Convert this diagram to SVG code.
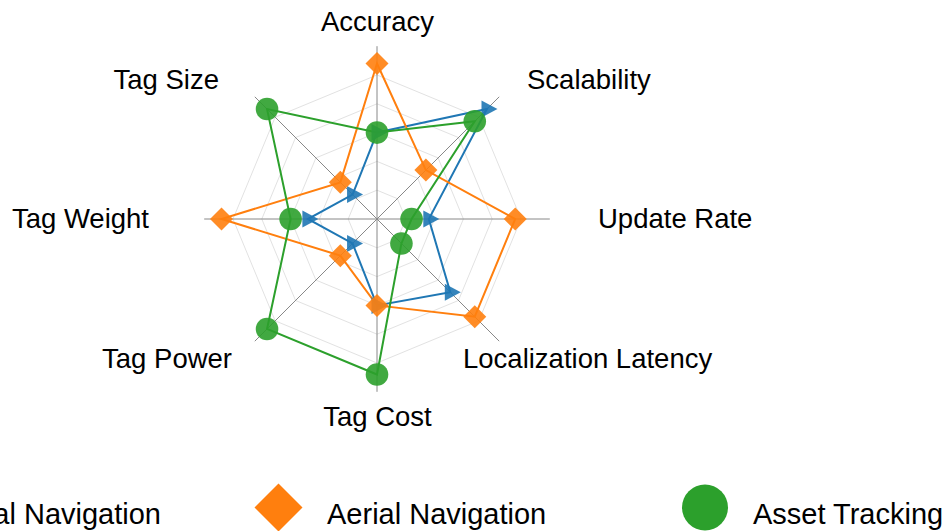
<svg xmlns="http://www.w3.org/2000/svg" xmlns:xlink="http://www.w3.org/1999/xlink" width="949" height="531" viewBox="0 0 949 531">
<style>
.grid{fill:none;stroke:#e2e2e2;stroke-width:1}
.axis{stroke:#888;stroke-width:1}
.lbl{font-family:"Liberation Sans",Arial,sans-serif;font-size:27.5px;fill:#000}
.leg{font-family:"Liberation Sans",Arial,sans-serif;font-size:29px;fill:#000}
.s{fill:none;stroke-width:2;stroke-linejoin:miter}
.blue{stroke:#1f77b4}.orange{stroke:#ff7f0e}.green{stroke:#2ca02c}
.mb{fill:#1f77b4;opacity:0.9}.mo{fill:#ff7f0e;opacity:0.9}.mg{fill:#2ca02c;opacity:0.9}
</style>
<defs>
<path id="tri" d="M-5.5,-8.5 L10.5,0 L-5.5,8.5 Z"/>
<path id="dia" d="M0,-11.5 L11.5,0 L0,11.5 L-11.5,0 Z"/>
<circle id="cir" r="11.3"/>
</defs>
<rect width="949" height="531" fill="#fff"/>
<g id="grid">
<polygon class="grid" points="405.8,219 397.36,239.36 377,247.8 356.64,239.36 348.2,219 356.64,198.64 377,190.2 397.36,198.64"/>
<polygon class="grid" points="434.6,219 417.73,259.73 377,276.6 336.27,259.73 319.4,219 336.27,178.27 377,161.4 417.73,178.27"/>
<polygon class="grid" points="463.4,219 438.09,280.09 377,305.4 315.91,280.09 290.6,219 315.91,157.91 377,132.6 438.09,157.91"/>
<polygon class="grid" points="492.2,219 458.46,300.46 377,334.2 295.54,300.46 261.8,219 295.54,137.54 377,103.8 458.46,137.54"/>
<polygon class="grid" points="521,219 478.82,320.82 377,363 275.18,320.82 233,219 275.18,117.18 377,75 478.82,117.18"/>
</g>
<g id="axes">
<line class="axis" x1="377" y1="46.2" x2="377" y2="391.8"/>
<line class="axis" x1="204.2" y1="219" x2="549.8" y2="219"/>
<line class="axis" x1="254.81" y1="96.81" x2="499.19" y2="341.19"/>
<line class="axis" x1="254.81" y1="341.19" x2="499.19" y2="96.81"/>
</g>
<g id="labels">
<text class="lbl" x="377.5" y="31" text-anchor="middle">Accuracy</text>
<text class="lbl" x="527" y="89">Scalability</text>
<text class="lbl" x="598" y="228">Update Rate</text>
<text class="lbl" x="463" y="368">Localization Latency</text>
<text class="lbl" x="377.5" y="426" text-anchor="middle">Tag Cost</text>
<text class="lbl" x="232" y="368" text-anchor="end">Tag Power</text>
<text class="lbl" x="149" y="228" text-anchor="end">Tag Weight</text>
<text class="lbl" x="219" y="89" text-anchor="end">Tag Size</text>
</g>
<g id="connectors">
<polygon class="s blue" points="377,132.6 486.97,109.03 428.84,219 450.31,292.31 377,305.4 352.56,243.44 307.88,219 352.56,194.56"/>
<polygon class="s orange" points="377,63.48 425.88,170.12 515.24,219 474.75,316.75 377,305.4 340.34,255.66 221.48,219 340.34,182.34"/>
<polygon class="s green" points="377,132.6 474.75,121.25 411.56,219 401.44,243.44 377,374.52 267.03,328.97 290.6,219 267.03,109.03"/>
</g>
<g id="series-personal-navigation">
<use href="#tri" class="mb" x="377" y="132.6"/>
<use href="#tri" class="mb" x="486.97" y="109.03"/>
<use href="#tri" class="mb" x="428.84" y="219"/>
<use href="#tri" class="mb" x="450.31" y="292.31"/>
<use href="#tri" class="mb" x="377" y="305.4"/>
<use href="#tri" class="mb" x="352.56" y="243.44"/>
<use href="#tri" class="mb" x="307.88" y="219"/>
<use href="#tri" class="mb" x="352.56" y="194.56"/>
</g>
<g id="series-aerial-navigation">
<use href="#dia" class="mo" x="377" y="63.48"/>
<use href="#dia" class="mo" x="425.88" y="170.12"/>
<use href="#dia" class="mo" x="515.24" y="219"/>
<use href="#dia" class="mo" x="474.75" y="316.75"/>
<use href="#dia" class="mo" x="377" y="305.4"/>
<use href="#dia" class="mo" x="340.34" y="255.66"/>
<use href="#dia" class="mo" x="221.48" y="219"/>
<use href="#dia" class="mo" x="340.34" y="182.34"/>
</g>
<g id="series-asset-tracking">
<use href="#cir" class="mg" x="377" y="132.6"/>
<use href="#cir" class="mg" x="474.75" y="121.25"/>
<use href="#cir" class="mg" x="411.56" y="219"/>
<use href="#cir" class="mg" x="401.44" y="243.44"/>
<use href="#cir" class="mg" x="377" y="374.52"/>
<use href="#cir" class="mg" x="267.03" y="328.97"/>
<use href="#cir" class="mg" x="290.6" y="219"/>
<use href="#cir" class="mg" x="267.03" y="109.03"/>
</g>
<g id="legend">
<text class="leg" x="161" y="523.5" text-anchor="end">al Navigation</text>
<path d="M278.5,483.5 L302.5,507.5 L278.5,531.5 L254.5,507.5 Z" fill="#ff7f0e"/>
<text class="leg" x="327" y="523.5">Aerial Navigation</text>
<circle cx="705" cy="507.5" r="23" fill="#2ca02c"/>
<text class="leg" x="753" y="523.5">Asset Tracking</text>
</g>
</svg>
